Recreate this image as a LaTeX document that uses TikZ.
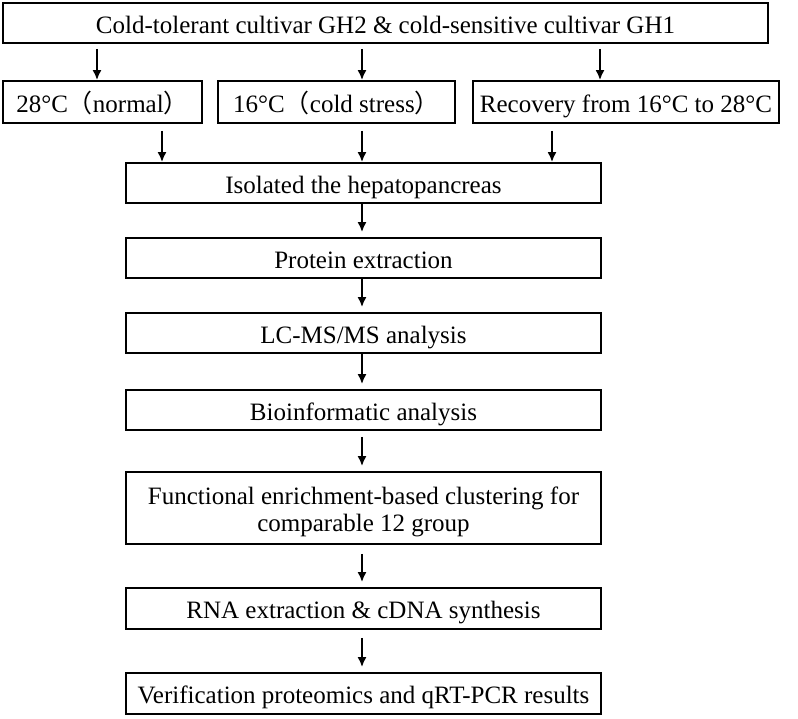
\documentclass[tikz,border=0pt]{standalone}
\usepackage{fontspec}
\setmainfont{Liberation Serif}
\newfontfamily\cjk{Noto Sans CJK SC}
\usetikzlibrary{arrows.meta}
\tikzset{
  stepbox/.style={draw, line width=1.8pt, minimum height=40pt, inner sep=0pt,
    text height=25pt, text depth=5pt, font=\fontsize{25}{27}\selectfont},
  flow/.style={-{Latex[length=10pt,width=9pt]}, line width=1.8pt},
}

\begin{document}
\begin{tikzpicture}[x=1pt,y=-1pt]
    \useasboundingbox (0,0) rectangle (798,718);

    %Kaesten oben
    \node[stepbox, minimum width=765pt] (cult) at (385.5,23) {Cold-tolerant cultivar GH2 \& cold-sensitive cultivar GH1};
    \node[stepbox, minimum width=199pt, minimum height=42pt] (normal) at (102.5,102) {28°C{\cjk（}normal{\cjk）}};
    \node[stepbox, minimum width=237pt, minimum height=42pt] (cold) at (336.5,102) {16°C{\cjk（}cold stress{\cjk）}};
    \node[stepbox, minimum width=306pt, minimum height=42pt] (recov) at (626,102) {Recovery from 16°C to 28°C};

    %Ablauf
    \node[stepbox, minimum width=475pt] (iso) at (363.5,183) {Isolated the hepatopancreas};
    \node[stepbox, minimum width=475pt] (prot) at (363.5,258) {Protein extraction};
    \node[stepbox, minimum width=475pt] (lcms) at (363.5,333) {LC-MS/MS analysis};
    \node[stepbox, minimum width=475pt] (bio) at (363.5,410) {Bioinformatic analysis};
    \node[stepbox, text height=, text depth=, minimum width=475pt, minimum height=72pt] (func) at (363.5,508)
        {\raisebox{-10.8pt}[0pt][0pt]{\begin{tabular}{@{}c@{}}Functional enrichment-based clustering for\\comparable 12 group\end{tabular}}};
    \node[stepbox, minimum width=475pt, minimum height=41pt] (rna) at (363.5,608.5) {RNA extraction \& cDNA synthesis};
    \node[stepbox, minimum width=475pt, minimum height=41pt] (ver) at (363.5,693.5) {Verification proteomics and qRT-PCR results};

    %Pfeile
    \coordinate (c1) at (97,0);
    \coordinate (c2) at (362,0);
    \coordinate (c3) at (600,0);
    \foreach \p/\q in {c1/normal, c2/cold, c3/recov}
        \draw[flow, shorten <=5pt] (cult.south -| \p) -- (\q.north -| \p);

    \coordinate (d1) at (162,0);
    \coordinate (d2) at (362,0);
    \coordinate (d3) at (552,0);
    \foreach \p/\q in {d1/normal, d2/cold, d3/recov}
        \draw[flow, shorten <=7pt] (\q.south -| \p) -- (iso.north -| \p);

    \coordinate (m) at (362,0);
    \foreach \a/\b/\s in {iso/prot/0, prot/lcms/0, lcms/bio/0, bio/func/6, func/rna/9, rna/ver/8}
        \draw[flow, shorten <=\s pt, shorten >=5pt] (\a.south -| m) -- (\b.north -| m);
\end{tikzpicture}
\end{document}
